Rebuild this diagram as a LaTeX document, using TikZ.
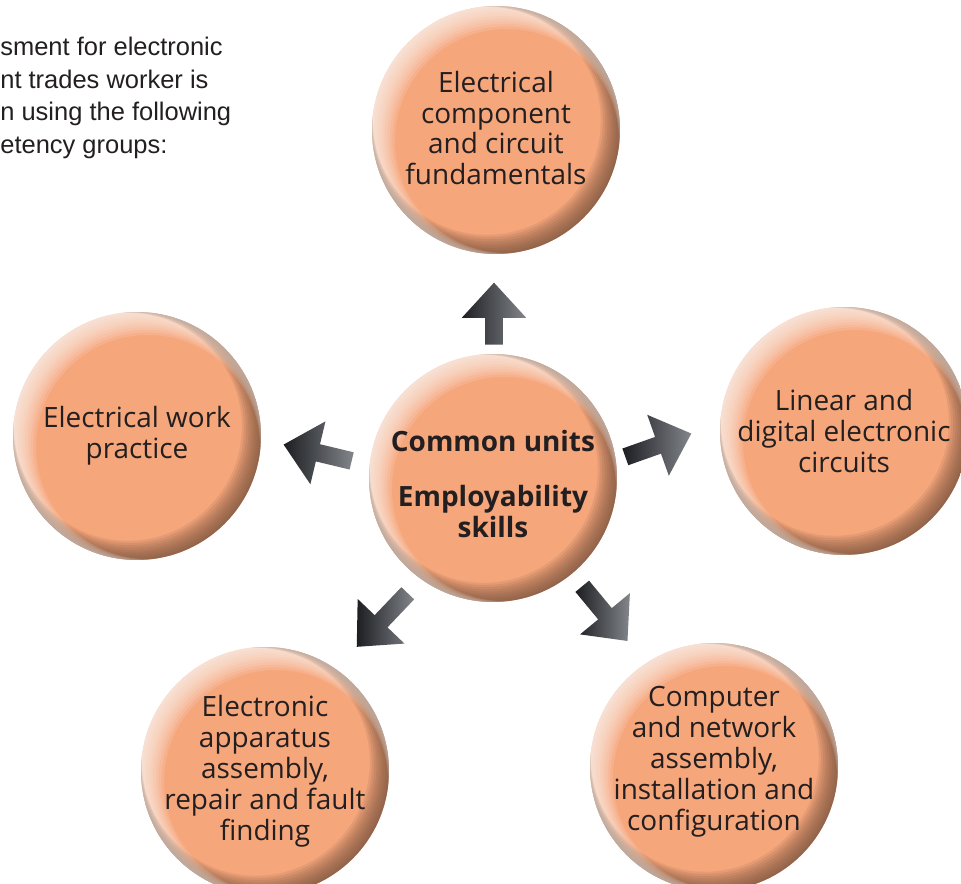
\documentclass[tikz,border=0pt]{standalone}
\usepackage{fontspec}
\setmainfont{Open Sans}
\newfontfamily\introfont{Liberation Sans}
\usetikzlibrary{shapes.arrows,calc}

\definecolor{discorange}{RGB}{245,166,123}
\definecolor{discdark}{RGB}{100,70,52}
\definecolor{inktext}{RGB}{35,31,32}
\definecolor{arrowdark}{RGB}{28,30,34}
\definecolor{arrowlight}{RGB}{130,133,138}

\begin{document}
\begin{tikzpicture}[x=0.02cm, y=-0.02cm,
    disc/.style={circle, minimum size=4.96cm, inner sep=0pt, fill=discorange,
      path picture={
        \coordinate (pc) at (path picture bounding box.center);
        % soft shadow bottom right, soft light top left
        \foreach \k in {1,...,10}{
          \fill[discdark, opacity=0.11, even odd rule] (pc) circle (130)
            ($(pc)+(-0.92*\k,-0.92*\k)$) circle ({127-1.3*\k});
          \fill[white, opacity=0.12, even odd rule] (pc) circle (130)
            ($(pc)+(1.1*\k,1.1*\k)$) circle ({127.5-1.55*\k});
        }}},
    group_text/.style={align=center, text=inktext, inner sep=0pt,
      font=\fontsize{15.9}{17.6}\selectfont},
    core_text/.style={group_text, font=\fontsize{15.9}{17.6}\selectfont\bfseries},
    intro/.style={align=left, text=inktext, inner sep=0pt, anchor=north west,
      font=\introfont\fontsize{14.5}{18.5}\selectfont},
    block_arrow/.style={single arrow, anchor=tail, inner xsep=0pt,
      inner ysep=0.17cm, single arrow head extend=0.47cm,
      single arrow tip angle=85, left color=arrowdark, right color=arrowlight},
    ]
    \useasboundingbox (0,0) rectangle (961,884);

    \node[intro] (intro) at (0,37)
      {sment for electronic\\nt trades worker is\\n using the following\\etency groups:};

    % discs
    \node[disc] (core) at (493,478) {};
    \node[disc] (fund) at (496,130) {};
    \node[disc] (practice) at (137,436) {};
    \node[disc] (digital) at (844,431) {};
    \node[disc] (apparatus) at (265,771) {};
    \node[disc] (network) at (714,767) {};

    \node[core_text, yshift=-0.12cm] (core_txt) at (core) {Common units\\[0.48cm]Employability\\skills};
    \node[group_text, yshift=0.04cm] (fund_txt) at (fund) {Electrical\\component\\and circuit\\fundamentals};
    \node[group_text] (practice_txt) at (practice) {Electrical work\\practice};
    \node[group_text] (digital_txt) at (digital) {Linear and\\digital electronic\\circuits};
    \node[group_text] (apparatus_txt) at (apparatus) {Electronic\\apparatus\\assembly,\\repair and fault\\finding};
    \node[group_text, yshift=0.1cm] (network_txt) at (network) {Computer\\and network\\assembly,\\installation and\\configuration};

    % arrows out of the core
    \node[block_arrow, rotate=90, minimum height=1.24cm] (to_fund) at (494,345) {};
    \node[block_arrow, rotate=166.5, minimum height=1.4cm] (to_practice) at (352,461) {};
    \node[block_arrow, rotate=19.5, minimum height=1.4cm] (to_digital) at (625,457) {};
    \node[block_arrow, rotate=226.4, minimum height=1.48cm] (to_apparatus) at (408,593) {};
    \node[block_arrow, rotate=-50.4, minimum height=1.42cm] (to_network) at (582,586) {};

\end{tikzpicture}
\end{document}
